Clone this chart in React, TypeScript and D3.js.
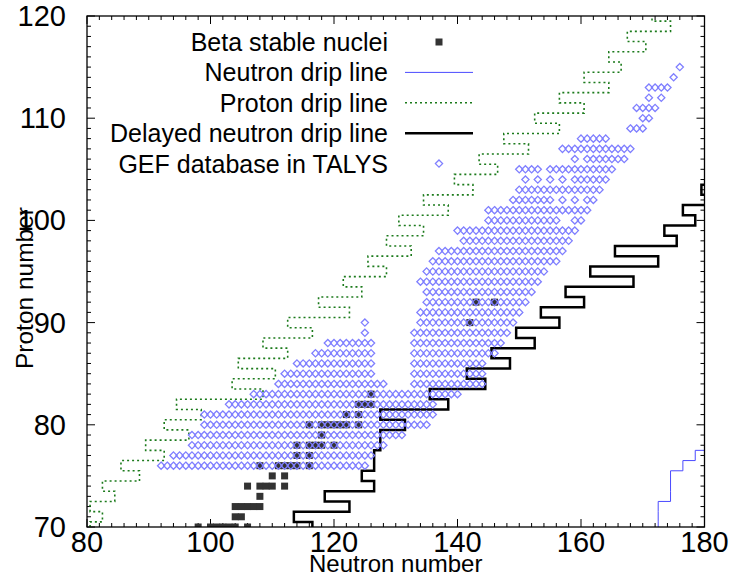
import React from 'react';
import * as d3 from 'd3';

const W = 731;
const H = 578;

const xDomain: [number, number] = [80, 180];
const yDomain: [number, number] = [70, 120];
const xMajorTicks = [80, 100, 120, 140, 160, 180];
const yMajorTicks = [70, 80, 90, 100, 110, 120];
const xMinorStep = 2;
const yMinorStep = 1;

const xLabel = 'Neutron number';
const yLabel = 'Proton number';

const legendLabels = [
  'Beta stable nuclei',
  'Neutron drip line',
  'Proton drip line',
  'Delayed neutron drip line',
  'GEF database in TALYS',
];

// Beta stable nuclei: [Z, N]
const stableNuclei: [number, number][] = [
  [70, 98], [70, 100], [70, 101], [70, 102], [70, 103], [70, 104], [70, 106],
  [71, 104], [71, 105],
  [72, 104], [72, 105], [72, 106], [72, 107], [72, 108],
  [73, 108],
  [74, 106], [74, 108], [74, 109], [74, 110], [74, 112],
  [75, 110], [75, 112],
  [76, 108], [76, 111], [76, 112], [76, 113], [76, 114], [76, 116],
  [77, 114], [77, 116],
  [78, 114], [78, 116], [78, 117], [78, 118], [78, 120],
  [79, 118],
  [80, 116], [80, 118], [80, 119], [80, 120], [80, 121], [80, 122], [80, 124],
  [81, 122], [81, 124],
  [82, 124], [82, 125], [82, 126],
  [83, 126],
  [90, 142],
  [92, 143], [92, 146],
];

// GEF database rows: [Z, firstN, lastN]
const gefRows: [number, number, number][] = [
  [76, 92, 125], [77, 94, 126], [78, 97, 128], [79, 97, 131], [80, 99, 135],
  [81, 99, 136], [82, 103, 136], [83, 107, 140],
  [84, 111, 128], [84, 133, 144],
  [85, 112, 126], [85, 133, 144],
  [86, 114, 126], [86, 133, 144],
  [87, 117, 126], [87, 133, 146],
  [88, 119, 126], [88, 133, 147],
  [89, 125, 125], [89, 133, 148],
  [90, 125, 125], [90, 134, 149],
  [91, 134, 150], [92, 135, 151], [93, 135, 152], [94, 134, 153], [95, 135, 154],
  [96, 136, 156], [97, 137, 157], [98, 141, 158], [99, 140, 159],
  [100, 145, 156], [100, 159, 160],
  [101, 145, 161],
  [102, 149, 155], [102, 157, 157], [102, 159, 159], [102, 161, 162],
  [103, 150, 163],
  [104, 151, 151], [104, 153, 153], [104, 155, 155], [104, 157, 157], [104, 159, 164],
  [105, 150, 153], [105, 155, 165],
  [106, 159, 159], [106, 161, 167],
  [107, 157, 168],
  [108, 160, 164],
  [109, 168, 170],
  [110, 170, 171],
  [111, 169, 172],
  [112, 171, 171], [112, 173, 173],
  [113, 171, 174],
  [114, 175, 175],
  [115, 176, 176],
];

// Drip lines: boundary N for each Z, starting at the given first Z
const neutronDripFirstZ = 70;
const neutronDripEdge = [172.5, 172.5, 172.5, 174.5, 174.5, 174.5, 176.5, 178.5, 181.5];

const protonDripFirstZ = 70;
const protonDripEdge = [
  80.5, 82.5, 80.5, 84.5, 82.5, 88.5, 85.5, 92.5, 89.5, 96.5,
  92.5, 98.5, 94.5, 108.5, 103.5, 110.5, 104.5, 112.5, 108.5, 116.5,
  112.5, 122.5, 117.5, 124.5, 121.5, 128.5, 125.5, 132.5, 128.5, 134.5,
  130.5, 138.5, 134.5, 142.5, 139.5, 146.5, 143.5, 151.5, 147.5, 156.5,
  152.5, 160.5, 156.5, 164.5, 160.5, 166.5, 164.5, 170.5, 167.5, 174.5,
  171.5,
];

const delayedDripFirstZ = 70;
const delayedDripEdge = [
  116.5, 113.5, 122.5, 118.5, 126.5, 124.5, 126.5, 126.5, 127.5, 127.5,
  131.5, 127.5, 138.5, 135.5, 144.5, 141.5, 148.5, 145.5, 152.5, 149.5,
  156.5, 153.5, 160.5, 157.5, 168.5, 161.5, 172.5, 165.5, 175.5, 173.5,
  178.5, 176.5, 181.5, 179.5, 182.5,
];

const FONT = "'Liberation Sans', Arial, Helvetica, sans-serif";
const GEF_COLOR = '#7f7fff';
const NDRIP_COLOR = '#4a4aff';
const PDRIP_COLOR = '#1b7a1b';
const STABLE_COLOR = '#333333';

export default function App() {
  const left = 87;
  const right = 704.5;
  const top = 16;
  const bottom = 527;

  const x = d3.scaleLinear().domain(xDomain).range([left, right]);
  const y = d3.scaleLinear().domain(yDomain).range([bottom, top]);

  const line = d3
    .line<[number, number]>()
    .x((d) => x(d[0]))
    .y((d) => y(d[1]));

  const stepPath = (firstZ: number, edges: number[]) => {
    const pts: [number, number][] = [];
    edges.forEach((e, i) => {
      const z = firstZ + i;
      pts.push([e, z - 0.5]);
      pts.push([e, z + 0.5]);
    });
    return line(pts) || '';
  };

  const gefPoints: [number, number][] = [];
  gefRows.forEach(([z, n0, n1]) => {
    for (let n = n0; n <= n1; n++) gefPoints.push([n, z]);
  });

  const diamond = (cx: number, cy: number, r: number) =>
    `M${cx},${cy - r}L${cx + r},${cy}L${cx},${cy + r}L${cx - r},${cy}Z`;

  const xMinor = d3.range(xDomain[0], xDomain[1] + 0.001, xMinorStep);
  const yMinor = d3.range(yDomain[0], yDomain[1] + 0.001, yMinorStep);
  const majorLen = 8;
  const minorLen = 4;

  const legendTextX = 388;
  const legendSampleX0 = 405;
  const legendSampleX1 = 473;
  const legendMarkX = 439;
  const legendY0 = 42;
  const legendDy = 30.4;
  const sq = 7;
  const dr = 3.6;

  return (
    <svg
      width={W}
      height={H}
      viewBox={`0 0 ${W} ${H}`}
      style={{ position: 'absolute', left: 0, top: 0, background: '#fff' }}
    >
      <defs>
        <clipPath id="plotClip">
          <rect x={left} y={top} width={right - left} height={bottom - top} />
        </clipPath>
      </defs>
      <rect x={0} y={0} width={W} height={H} fill="#fff" />

      {/* ticks */}
      <g stroke="#000" strokeWidth={1}>
        {xMinor.map((v) => {
          const len = xMajorTicks.includes(v) ? majorLen : minorLen;
          return (
            <g key={'xt' + v}>
              <line x1={x(v)} x2={x(v)} y1={bottom} y2={bottom - len} />
              <line x1={x(v)} x2={x(v)} y1={top} y2={top + len} />
            </g>
          );
        })}
        {yMinor.map((v) => {
          const len = yMajorTicks.includes(v) ? majorLen : minorLen;
          return (
            <g key={'yt' + v}>
              <line x1={left} x2={left + len} y1={y(v)} y2={y(v)} />
              <line x1={right} x2={right - len} y1={y(v)} y2={y(v)} />
            </g>
          );
        })}
      </g>

      <g clipPath="url(#plotClip)">
        {/* beta stable */}
        {stableNuclei.map(([z, n], i) => (
          <rect
            key={'s' + i}
            x={x(n) - sq / 2}
            y={y(z) - sq / 2}
            width={sq}
            height={sq}
            fill={STABLE_COLOR}
          />
        ))}
        {/* neutron drip line */}
        <path
          d={stepPath(neutronDripFirstZ, neutronDripEdge)}
          fill="none"
          stroke={NDRIP_COLOR}
          strokeWidth={1}
        />
        {/* proton drip line */}
        <path
          d={stepPath(protonDripFirstZ, protonDripEdge)}
          fill="none"
          stroke={PDRIP_COLOR}
          strokeWidth={1.6}
          strokeDasharray="2,3"
        />
        {/* delayed neutron drip line */}
        <path
          d={stepPath(delayedDripFirstZ, delayedDripEdge)}
          fill="none"
          stroke="#000"
          strokeWidth={2.5}
        />
        {/* GEF */}
        {gefPoints.map(([n, z], i) => (
          <path
            key={'g' + i}
            d={diamond(x(n), y(z), dr)}
            fill="none"
            stroke={GEF_COLOR}
            strokeWidth={1.3}
          />
        ))}
      </g>

      {/* frame */}
      <rect
        x={left}
        y={top}
        width={right - left}
        height={bottom - top}
        fill="none"
        stroke="#000"
        strokeWidth={1.3}
      />

      {/* tick labels */}
      <g fontFamily={FONT} fontSize={29} fill="#000">
        {xMajorTicks.map((v) => (
          <text key={'xl' + v} x={x(v)} y={552} textAnchor="middle">
            {v}
          </text>
        ))}
        {yMajorTicks.map((v) => (
          <text key={'yl' + v} x={66} y={y(v) + 10} textAnchor="end">
            {v}
          </text>
        ))}
      </g>

      {/* axis labels */}
      <text
        x={(left + right) / 2}
        y={572}
        textAnchor="middle"
        fontFamily={FONT}
        fontSize={24}
      >
        {xLabel}
      </text>
      <text
        transform={`translate(33, 288) rotate(-90)`}
        textAnchor="middle"
        fontFamily={FONT}
        fontSize={24.5}
      >
        {yLabel}
      </text>

      {/* legend */}
      <g fontFamily={FONT} fontSize={25}>
        {legendLabels.map((lab, i) => (
          <text
            key={'lg' + i}
            x={legendTextX}
            y={legendY0 + i * legendDy + 9}
            textAnchor="end"
          >
            {lab}
          </text>
        ))}
        <rect
          x={legendMarkX - sq / 2}
          y={legendY0 - sq / 2}
          width={sq}
          height={sq}
          fill={STABLE_COLOR}
        />
        <line
          x1={legendSampleX0}
          x2={legendSampleX1}
          y1={legendY0 + legendDy}
          y2={legendY0 + legendDy}
          stroke={NDRIP_COLOR}
          strokeWidth={1}
        />
        <line
          x1={legendSampleX0}
          x2={legendSampleX1}
          y1={legendY0 + 2 * legendDy}
          y2={legendY0 + 2 * legendDy}
          stroke={PDRIP_COLOR}
          strokeWidth={1.6}
          strokeDasharray="2,3"
        />
        <line
          x1={legendSampleX0}
          x2={legendSampleX1}
          y1={legendY0 + 3 * legendDy}
          y2={legendY0 + 3 * legendDy}
          stroke="#000"
          strokeWidth={2.5}
        />
        <path
          d={diamond(legendMarkX, legendY0 + 4 * legendDy, dr)}
          fill="none"
          stroke={GEF_COLOR}
          strokeWidth={1.3}
        />
      </g>
    </svg>
  );
}
